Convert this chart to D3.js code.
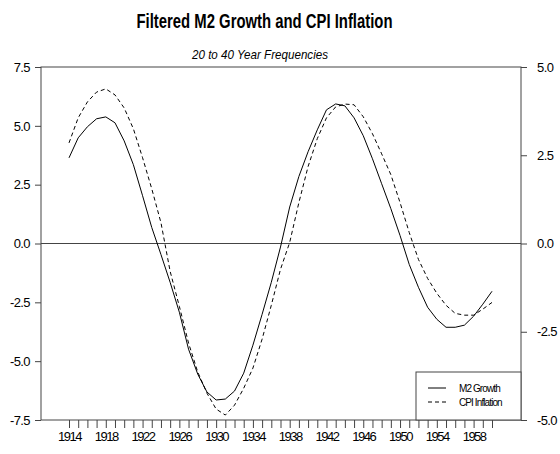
<!DOCTYPE html>
<html><head><meta charset="utf-8">
<script src="https://cdn.jsdelivr.net/npm/d3@7"></script>
<style>
body{margin:0;background:#fff;}
svg{display:block;font-family:"Liberation Sans",Arial,sans-serif;}
</style></head>
<body><svg id="c" width="560" height="454"></svg>
<script>
const years = [1914,1915,1916,1917,1918,1919,1920,1921,1922,1923,1924,1925,1926,1927,1928,1929,1930,1931,1932,1933,1934,1935,1936,1937,1938,1939,1940,1941,1942,1943,1944,1945,1946,1947,1948,1949,1950,1951,1952,1953,1954,1955,1956,1957,1958,1959,1960];
const m2Growth = [3.64,4.49,4.96,5.30,5.38,5.13,4.36,3.35,2.03,0.68,
 -0.47,-1.65,-2.92,-4.49,-5.55,-6.31,-6.65,-6.61,-6.27,-5.51,
 -4.32,-3.01,-1.65,-0.15,1.55,2.85,3.90,4.83,5.68,5.93,
 5.85,5.34,4.58,3.60,2.54,1.48,0.34,-0.89,-1.86,-2.71,
 -3.22,-3.56,-3.56,-3.47,-3.09,-2.58,-2.03];
const cpiInflation = [2.85,3.56,4.01,4.29,4.38,4.21,3.84,3.25,2.43,1.55,
 0.59,-0.79,-1.78,-2.82,-3.64,-4.24,-4.69,-4.86,-4.58,-4.10,
 -3.53,-2.71,-1.75,-0.73,0.03,1.16,2.18,2.97,3.56,3.87,
 3.95,3.93,3.59,3.11,2.54,1.95,1.16,0.31,-0.45,-0.99,
 -1.41,-1.75,-1.98,-2.03,-2.03,-1.86,-1.67];
const leftTicks = [-7.5,-5.0,-2.5,0.0,2.5,5.0,7.5];
const rightTicks = [-5.0,-2.5,0.0,2.5,5.0];
const yearLabels = [1914,1918,1922,1926,1930,1934,1938,1942,1946,1950,1954,1958];
const title = "Filtered M2 Growth and CPI Inflation";
const subtitle = "20 to 40 Year Frequencies";
const seriesNames = ["M2 Growth","CPI Inflation"];

const svg = d3.select("#c");
const L = 41, R = 521, T = 67, B = 420;
const x = d3.scaleLinear().domain([1914,1960]).range([69,492]);
const yL = d3.scaleLinear().domain([-7.5,7.5]).range([B,T]);
const yR = d3.scaleLinear().domain([-5,5]).range([B,T]);
const fmt = d => d.toFixed(1);
const frame = "#444";

// Title
svg.append("text").attr("x",264.5).attr("y",28).attr("text-anchor","middle")
  .attr("font-size",20).attr("font-weight","bold")
  .attr("textLength",256).attr("lengthAdjust","spacingAndGlyphs").text(title);
svg.append("text").attr("x",260).attr("y",59).attr("text-anchor","middle")
  .attr("font-size",13).attr("font-style","italic")
  .attr("textLength",136).attr("lengthAdjust","spacingAndGlyphs").text(subtitle);

// Frame
svg.append("rect").attr("x",L).attr("y",T).attr("width",R-L).attr("height",B-T)
  .attr("fill","none").attr("stroke",frame).attr("stroke-width",1);

// Zero line
svg.append("line").attr("x1",L).attr("x2",R).attr("y1",yL(0)).attr("y2",yL(0))
  .attr("stroke",frame).attr("stroke-width",1);

function styleAxis(g){
  g.select(".domain").remove();
  g.selectAll("line").attr("stroke",frame);
  g.selectAll("text").attr("fill","#000").attr("font-size",13)
    .attr("font-family","Liberation Sans, Arial, sans-serif")
    .attr("letter-spacing","-0.6px");
}
svg.append("g").attr("transform",`translate(${L},0)`)
  .call(d3.axisLeft(yL).tickValues(leftTicks).tickFormat(fmt).tickSize(6).tickPadding(5))
  .call(styleAxis);
svg.append("g").attr("transform",`translate(${R},0)`)
  .call(d3.axisRight(yR).tickValues(rightTicks).tickFormat(fmt).tickSize(6).tickPadding(10))
  .call(styleAxis);
const xa = svg.append("g").attr("transform",`translate(0,${B})`)
  .call(d3.axisBottom(x).tickValues(years).tickSize(8).tickPadding(4)
    .tickFormat(d => yearLabels.includes(d) ? String(d) : ""))
  .call(styleAxis);
xa.selectAll("text").attr("letter-spacing","-1.5px");

// Lines
const lineL = d3.line().x((d,i)=>x(years[i])).y(d=>yL(d));
const lineR = d3.line().x((d,i)=>x(years[i])).y(d=>yR(d));
svg.append("path").datum(m2Growth).attr("d",lineL)
  .attr("fill","none").attr("stroke","#000").attr("stroke-width",1);
svg.append("path").datum(cpiInflation).attr("d",lineR)
  .attr("fill","none").attr("stroke","#000").attr("stroke-width",1)
  .attr("stroke-dasharray","4,3");

// Legend
const lg = svg.append("g");
lg.append("rect").attr("x",416).attr("y",372).attr("width",R-416).attr("height",B-372)
  .attr("fill","#fff").attr("stroke",frame);
seriesNames.forEach((n,i)=>{
  const yy = 388 + i*14;
  lg.append("line").attr("x1",428).attr("x2",446).attr("y1",yy).attr("y2",yy)
    .attr("stroke","#000").attr("stroke-dasharray", i ? "4,3" : null);
  lg.append("text").attr("x",459).attr("y",yy+3.5).attr("font-size",10)
    .attr("letter-spacing","-0.9px").text(n);
});
</script></body></html>
